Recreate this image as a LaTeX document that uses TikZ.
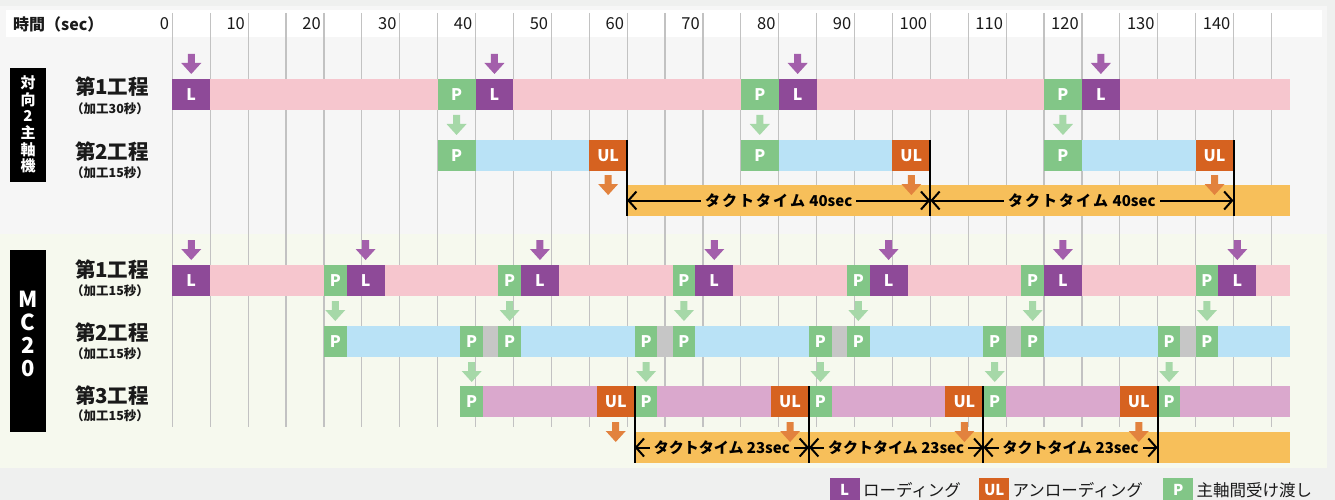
\documentclass[tikz,border=0pt]{standalone}
\usepackage{fontspec}
\setmainfont{Noto Sans CJK JP}
\usetikzlibrary{arrows.meta}
\definecolor{outerbg}{HTML}{EFF0EF}
\definecolor{topbg}{HTML}{F6F6F6}
\definecolor{botbg}{HTML}{F6F9EE}
\definecolor{gridc}{HTML}{C2C2C2}
\definecolor{Lc}{HTML}{8E4A98}
\definecolor{Larr}{HTML}{A35FAB}
\definecolor{Pc}{HTML}{82C687}
\definecolor{Parr}{HTML}{A6D8A8}
\definecolor{ULc}{HTML}{D66220}
\definecolor{ULarr}{HTML}{E2823E}
\definecolor{pinkc}{HTML}{F6C6CE}
\definecolor{bluec}{HTML}{B9E2F6}
\definecolor{mauvec}{HTML}{DAA8CD}
\definecolor{taktc}{HTML}{F7BF5A}
\definecolor{gapc}{HTML}{C6C6C6}
\definecolor{txtc}{HTML}{1A1A1A}
% segment: name, t0, t1, ytop, colour, label
\newcommand\seg[6]{\node[segbox,fill=#5,minimum width={7.58*((#3)-(#2))}] (#1) at ({172.3+7.58*(#2)},#4) {#6};}
% block down arrow: t centre, ytop, colour
\newcommand\darr[3]{\fill[#3] ({172.3+7.58*(#1)-3.5},#2) -- ++(7,0) -- ++(0,9) -- ++(6.5,0) -- ++(-10,11) -- ++(-10,-11) -- ++(6.5,0) -- cycle;}
\newcommand\taktA{タ\kern2ptク\kern2ptト\kern2ptタ\kern2ptイ\kern2ptム\kern1pt{} 40sec}
\newcommand\taktB{タクトタイム 23sec}
\begin{document}
\begin{tikzpicture}[x=1pt,y=-1pt,
  segbox/.style={anchor=north west,minimum height=31,inner sep=0,outer sep=0,text=white,font=\bfseries\fontsize{16}{16}\selectfont},
  vline/.style={line width=2pt,black},
  taktline/.style={line width=2pt,black,{Straight Barb[length=8pt,width=18pt]}-{Straight Barb[length=8pt,width=18pt]}},
  taktlbl/.style={fill=taktc,inner xsep=4pt,inner ysep=0pt,font=\bfseries\fontsize{15}{15}\selectfont,text=black},
  rowmain/.style={font=\bfseries\fontsize{20.5}{20.5}\selectfont,text=txtc,inner sep=0},
  rowsub/.style={font=\bfseries\fontsize{12.5}{12.5}\selectfont,text=txtc,inner sep=0},
  sidebox/.style={fill=black,anchor=north west,minimum width=36,inner sep=0,outer sep=0},
  legbox/.style={anchor=north west,minimum width=30,minimum height=24,inner sep=0,text=white,font=\bfseries\fontsize{15}{15}\selectfont},
  legtxt/.style={anchor=west,inner sep=0,font=\fontsize{16.5}{16.5}\selectfont,text=txtc},
  hdrnum/.style={anchor=east,inner sep=0,font=\fontsize{16.5}{16.5}\selectfont,text=txtc}]
\useasboundingbox (0,0) rectangle (1335,500);
% backgrounds
\fill[outerbg] (0,0) rectangle (1335,500);
\fill[topbg] (0,6) rectangle (1327,234);
\fill[botbg] (0,234) rectangle (1327,468);
\fill[white] (6,10) rectangle (1322,37);
% grid
\foreach \t in {0,5,...,145}
  \draw[gridc,line width=1.2pt] ({172.3+7.58*\t},13) -- ({172.3+7.58*\t},427);
% header
\node[anchor=west,inner sep=0,font=\bfseries\fontsize{16}{16}\selectfont,text=txtc] (hdr) at (13,24) {時間（sec）};
\foreach \t in {0,10,...,140}
  \node[hdrnum] (n\t) at ({172.3+7.58*\t-3},24) {\t};
% side labels
\node[sidebox,minimum height=114] (sideA) at (10,68) {};
\node[align=center,text=white,inner sep=0,font=\bfseries\fontsize{15}{16.7}\selectfont] (sideAt) at (28,124.5) {対\\向\\2\\主\\軸\\機};
\node[sidebox,minimum height=182] (sideB) at (10,250) {};
\node[align=center,text=white,inner sep=0,font=\bfseries\fontsize{22}{23}\selectfont] (sideBt) at (28,334) {M\\C\\2\\0};
% row labels
\node[rowmain] (u1m) at (112,87) {第1工程};
\node[rowsub] (u1s) at (110,109) {（加工30秒）};
\node[rowmain] (u2m) at (112,152) {第2工程};
\node[rowsub] (u2s) at (110,173) {（加工15秒）};
\node[rowmain] (l1m) at (112,270) {第1工程};
\node[rowsub] (l1s) at (110,291) {（加工15秒）};
\node[rowmain] (l2m) at (112,333) {第2工程};
\node[rowsub] (l2s) at (110,354) {（加工15秒）};
\node[rowmain] (l3m) at (112,396) {第3工程};
\node[rowsub] (l3s) at (110,416) {（加工15秒）};
% ===== upper machine =====
\seg{ua}{0}{147.45}{79}{pinkc}{}
\seg{uaL1}{0}{5}{79}{Lc}{L}
\seg{uaP1}{35}{40}{79}{Pc}{P}
\seg{uaL2}{40}{45}{79}{Lc}{L}
\seg{uaP2}{75}{80}{79}{Pc}{P}
\seg{uaL3}{80}{85}{79}{Lc}{L}
\seg{uaP3}{115}{120}{79}{Pc}{P}
\seg{uaL4}{120}{125}{79}{Lc}{L}
\seg{ubB1}{40}{55}{140}{bluec}{}
\seg{ubB2}{80}{95}{140}{bluec}{}
\seg{ubB3}{120}{135}{140}{bluec}{}
\seg{ubP1}{35}{40}{140}{Pc}{P}
\seg{ubU1}{55}{60}{140}{ULc}{UL}
\seg{ubP2}{75}{80}{140}{Pc}{P}
\seg{ubU2}{95}{100}{140}{ULc}{UL}
\seg{ubP3}{115}{120}{140}{Pc}{P}
\seg{ubU3}{135}{140}{140}{ULc}{UL}
\seg{ut}{60}{147.45}{185}{taktc}{}
\foreach \t in {2.5,42.5,82.5,122.5} {\darr{\t}{54}{Larr}}
\foreach \t in {37.5,77.5,117.5} {\darr{\t}{115}{Parr}}
\foreach \t/\n in {60/0,100/1,140/2} {
  \coordinate (uv\n a) at ({172.3+7.58*\t},140);
  \coordinate (uv\n b) at ({172.3+7.58*\t},216);
  \coordinate (uk\n) at ({172.3+7.58*\t},200.5);
  \draw[vline] (uv\n a) -- (uv\n b);
}
\draw[taktline] (uk0) -- node[taktlbl] (utl1) {\taktA} (uk1);
\draw[taktline] (uk1) -- node[taktlbl] (utl2) {\taktA} (uk2);
\foreach \t in {57.5,97.5,137.5} {\darr{\t}{175}{ULarr}}
% ===== MC20 =====
\seg{la}{0}{147.45}{265}{pinkc}{}
\seg{laL0}{0}{5}{265}{Lc}{L}
\foreach \k in {0,...,5} {
  \pgfmathsetmacro\ta{20+23*\k}
  \pgfmathsetmacro\tb{23+23*\k}
  \pgfmathsetmacro\tc{28+23*\k}
  \seg{laP\k}{\ta}{\tb}{265}{Pc}{P}
  \seg{laL\k x}{\tb}{\tc}{265}{Lc}{L}
}
\seg{lb}{23}{147.45}{326}{bluec}{}
\seg{lbP}{20}{23}{326}{Pc}{P}
\foreach \k in {0,...,4} {
  \pgfmathsetmacro\ta{38+23*\k}
  \pgfmathsetmacro\tb{41+23*\k}
  \pgfmathsetmacro\tc{43+23*\k}
  \pgfmathsetmacro\td{46+23*\k}
  \seg{lbP\k a}{\ta}{\tb}{326}{Pc}{P}
  \seg{lbG\k}{\tb}{\tc}{326}{gapc}{}
  \seg{lbP\k b}{\tc}{\td}{326}{Pc}{P}
}
\seg{lc}{41}{147.45}{386}{mauvec}{}
\seg{lcP}{38}{41}{386}{Pc}{P}
\foreach \k in {0,...,3} {
  \pgfmathsetmacro\ta{56+23*\k}
  \pgfmathsetmacro\tb{61+23*\k}
  \pgfmathsetmacro\tc{64+23*\k}
  \seg{lcU\k}{\ta}{\tb}{386}{ULc}{UL}
  \seg{lcP\k}{\tb}{\tc}{386}{Pc}{P}
}
\seg{lt}{61}{147.45}{432}{taktc}{}
\foreach \t in {2.5,25.5,48.5,71.5,94.5,117.5,140.5} {\darr{\t}{240}{Larr}}
\foreach \t in {21.5,44.5,67.5,90.5,113.5,136.5} {\darr{\t}{301}{Parr}}
\foreach \t in {39.5,62.5,85.5,108.5,131.5} {\darr{\t}{362}{Parr}}
\foreach \t/\n in {61/0,84/1,107/2,130/3} {
  \coordinate (lv\n a) at ({172.3+7.58*\t},386);
  \coordinate (lv\n b) at ({172.3+7.58*\t},463);
  \coordinate (lk\n) at ({172.3+7.58*\t},447.5);
  \draw[vline] (lv\n a) -- (lv\n b);
}
\draw[taktline] (lk0) -- node[taktlbl] (ltl1) {\taktB} (lk1);
\draw[taktline] (lk1) -- node[taktlbl] (ltl2) {\taktB} (lk2);
\draw[taktline] (lk2) -- node[taktlbl] (ltl3) {\taktB} (lk3);
\foreach \t in {58.5,81.5,104.5,127.5} {\darr{\t}{422}{ULarr}}
% ===== legend =====
\node[legbox,fill=Lc] (lgL) at (829.5,478) {L};
\node[legtxt] (lgLt) at ([xshift=3pt]lgL.east) {ローディング};
\node[legbox,fill=ULc] (lgU) at (979,478) {UL};
\node[legtxt] (lgUt) at ([xshift=3pt]lgU.east) {アンローディング};
\node[legbox,fill=Pc] (lgP) at (1163,478) {P};
\node[legtxt] (lgPt) at ([xshift=3pt]lgP.east) {主軸間受け渡し};
\end{tikzpicture}
\end{document}
